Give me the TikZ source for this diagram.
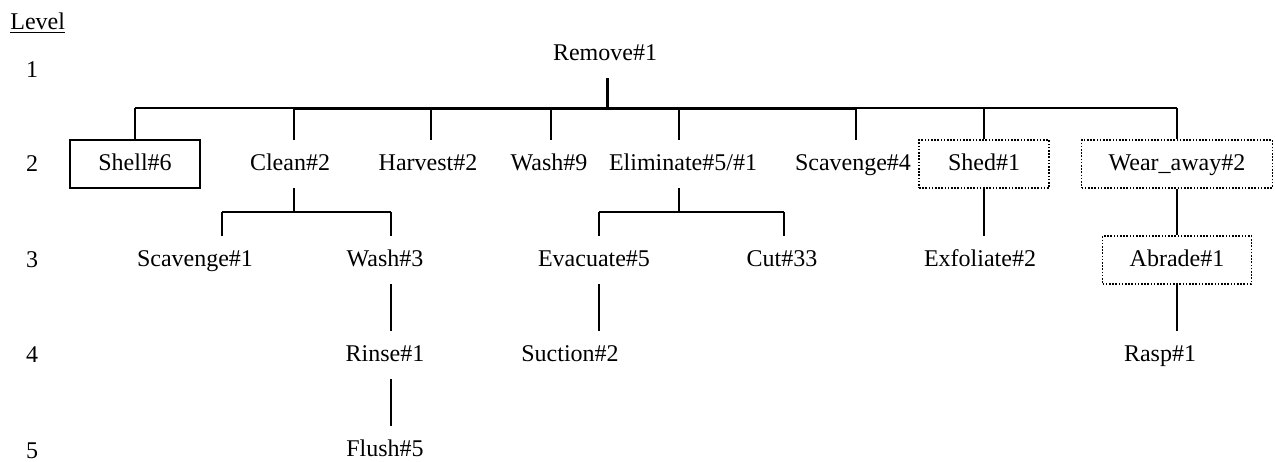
\documentclass[tikz,border=0pt]{standalone}
\usepackage{fontspec}
\setmainfont{Liberation Serif}
\usepackage{tikz}
\usetikzlibrary{positioning,calc}
\tikzset{
  lbl/.style  ={font=\fontsize{12}{14}\selectfont, inner xsep=13.5pt, inner ysep=0pt,
                minimum height=24pt, text height=8.5pt, text depth=2.5pt},
  sbox/.style ={lbl, draw=black, line width=0.9pt},
  dbox/.style ={lbl, draw=black, line width=0.8pt, dash pattern=on 0.8pt off 0.8pt},
  ln/.style   ={draw=black, line width=1pt},
  thk/.style  ={draw=black, line width=1.5pt},
  lvl/.style  ={font=\fontsize{12}{14}\selectfont, inner sep=0pt},
}

\begin{document}
\begin{tikzpicture}[x=0.5pt,y=-0.5pt]
\useasboundingbox (0,0) rectangle (1275,461);
% level column
\node[lvl,anchor=base west] (lvlhead) at (10,29) {\underline{Level}};
\foreach \y/\n in {70/1, 164/2, 260/3, 355/4, 451/5}{
  \node[lvl] (lvl\n) at (32,\y) {\n};
}

% level 1 and 2
\node[lbl] (rem) at (605,54) {Remove\#1};
\node[sbox,minimum width=65pt] (shell) at (135,164) {Shell\#6};
\node[lbl] (clean)   at (290,164)  {Clean\#2};
\node[lbl] (harv)    at (428,164)  {Harvest\#2};
\node[lbl] (wash9)   at (549,164)  {Wash\#9};
\node[lbl] (elim)    at (683,164)  {Eliminate\#5/\#1};
\node[lbl] (scav4)   at (853,164)  {Scavenge\#4};
\node[dbox,minimum width=65pt] (shed) at (984,164) {Shed\#1};
\node[dbox] (wear)   at (1177,164) {Wear\_away\#2};

% level 3 to 5
\node[lbl] (scav1)   at (195,260)  {Scavenge\#1};
\node[lbl] (wash3)   at (385,260)  {Wash\#3};
\node[lbl] (evac)    at (594,260)  {Evacuate\#5};
\node[lbl] (cut)     at (782,260)  {Cut\#33};
\node[lbl] (exfol)   at (980,260)  {Exfoliate\#2};
\node[dbox] (abrade) at (1177,260) {Abrade\#1};
\node[lbl] (rinse)   at (385,355)  {Rinse\#1};
\node[lbl] (suct)    at (570,355)  {Suction\#2};
\node[lbl] (rasp)    at (1160,355) {Rasp\#1};
\node[lbl] (flush)   at (385,450)  {Flush\#5};

% junctions on the main bar
\foreach \c/\x in {rem/607, shell/135, clean/294, harv/431, wash9/551,
                   elim/679, scav4/856, shed/984, wear/1177}{
  \coordinate (b-\c) at (\x,108);
}
% junctions on the sub bars
\foreach \c/\x in {clean/294, scav1/222, wash3/391, elim/679, evac/599, cut/784}{
  \coordinate (s-\c) at (\x,212);
}

% main bar
\draw[thk] (rem.south -| b-rem) -- (b-rem);
\draw[ln] (b-shell) -- (b-clean);
\draw[thk] (b-clean) -- (b-scav4);
\draw[ln] (b-scav4) -- (b-wear);
\foreach \c in {shell, clean, harv, wash9, elim, scav4, shed, wear}{
  \draw[ln] (b-\c) -- (b-\c |- \c.north);
}

% sub trees
\draw[ln] (clean.south -| s-clean) -- (s-clean);
\draw[ln] (s-scav1) -- (s-wash3);
\draw[ln] (elim.south -| s-elim) -- (s-elim);
\draw[ln] (s-evac) -- (s-cut);
\foreach \c in {scav1, wash3, evac, cut}{
  \draw[ln] (s-\c) -- (s-\c |- \c.north);
}
\draw[ln] (shed.south) -- (exfol.north -| shed.south);
\draw[ln] (wear.south) -- (abrade.north);
\draw[ln] (wash3.south -| s-wash3) -- (s-wash3 |- rinse.north);
\draw[ln] (rinse.south -| s-wash3) -- (s-wash3 |- flush.north);
\draw[ln] (evac.south -| s-evac) -- (s-evac |- suct.north);
\draw[ln] (abrade.south) -- (abrade.south |- rasp.north);
\end{tikzpicture}
\end{document}
